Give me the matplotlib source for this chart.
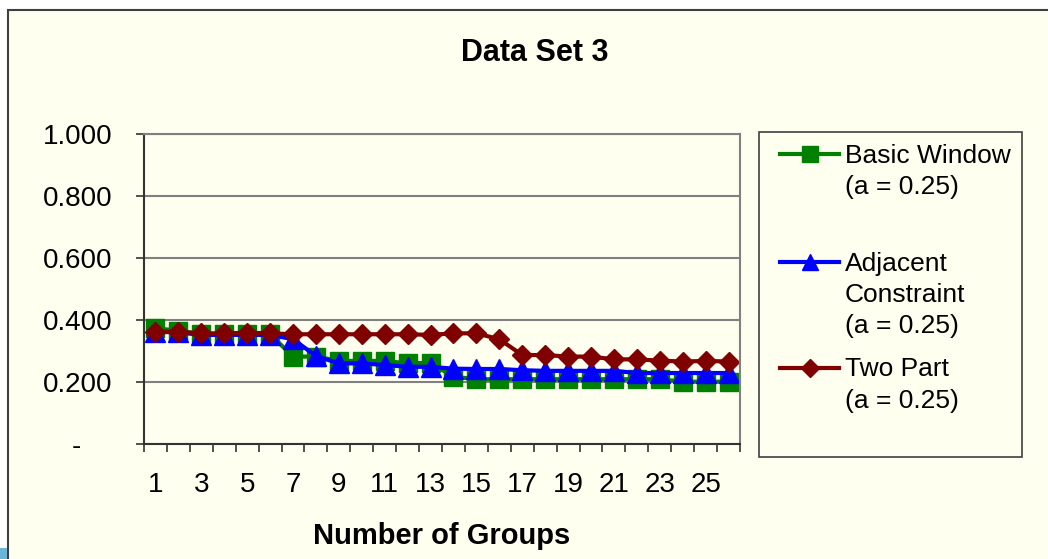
import matplotlib
matplotlib.use("Agg")
import matplotlib.pyplot as plt
from matplotlib.patches import Rectangle
from matplotlib.lines import Line2D
from matplotlib.ticker import FixedLocator, FuncFormatter

plt.rcParams['font.family'] = ['Liberation Sans', 'DejaVu Sans']

# Number of groups 1..26
groups = list(range(1, 27))

basic_window = [0.373, 0.366, 0.354, 0.354, 0.354, 0.354, 0.282, 0.282, 0.268, 0.268,
                0.268, 0.260, 0.262, 0.217, 0.209, 0.209, 0.209, 0.209, 0.209, 0.209,
                0.209, 0.209, 0.209, 0.201, 0.201, 0.201]
adjacent = [0.362, 0.360, 0.352, 0.352, 0.352, 0.352, 0.338, 0.284, 0.260, 0.260,
            0.255, 0.249, 0.249, 0.243, 0.242, 0.242, 0.238, 0.236, 0.236, 0.236,
            0.236, 0.229, 0.229, 0.229, 0.229, 0.229]
two_part = [0.362, 0.362, 0.357, 0.357, 0.359, 0.357, 0.354, 0.354, 0.354, 0.354,
            0.354, 0.354, 0.352, 0.357, 0.357, 0.338, 0.287, 0.287, 0.282, 0.282,
            0.273, 0.273, 0.269, 0.266, 0.268, 0.266]

series = [
    ("Basic Window\n(a = 0.25)", basic_window, '#008000', 's', 13),
    ("Adjacent\nConstraint\n(a = 0.25)", adjacent, '#0000FF', '^', 14),
    ("Two Part\n(a = 0.25)", two_part, '#800000', 'D', 10.5),
]

W, H = 1048, 559
bg = '#FFFFF0'


def fx(x):
    return x / W


def fy(y):
    return 1 - y / H


fig = plt.figure(figsize=(W / 100, H / 100), dpi=100, facecolor='white')

# chart area frame, kept behind the axes
fig.patches.append(Rectangle((fx(8), -0.1), 1.2, fy(10) + 0.1, transform=fig.transFigure,
                             facecolor=bg, edgecolor='#404040', lw=1.5, zorder=-10))
fig.patches.append(Rectangle((0, 0), fx(7), 11 / H, transform=fig.transFigure,
                             facecolor='#6BB5D8', edgecolor='none', zorder=-10))

ax = fig.add_axes([fx(144), fy(444), fx(740 - 144), (444 - 134) / H])
ax.set_facecolor(bg)

for label, vals, color, marker, ms in series:
    ax.plot(groups, vals, color=color, lw=3, marker=marker, ms=ms,
            mec=color, mfc=color, clip_on=False)

ax.set_xlim(0.5, 26.5)
ax.set_ylim(0, 1)

# category boundaries get the tick marks, centres get the labels
ax.xaxis.set_major_locator(FixedLocator([i + 0.5 for i in range(0, 27)]))
ax.xaxis.set_major_formatter(FuncFormatter(lambda v, p: ''))
ax.xaxis.set_minor_locator(FixedLocator(groups[::2]))
ax.xaxis.set_minor_formatter(FuncFormatter(lambda v, p: '%d' % v))
ax.tick_params(axis='x', which='major', direction='out', length=5.8, width=1.2, color='#333333')
ax.tick_params(axis='x', which='minor', length=0, pad=20, labelsize=20)

ax.set_yticks([0, 0.2, 0.4, 0.6, 0.8, 1.0])
ax.yaxis.set_major_formatter(FuncFormatter(lambda v, p: '-    ' if v == 0 else '%.3f' % v))
ax.tick_params(axis='y', direction='out', length=5.8, width=1.2, color='#333333',
               pad=17, labelsize=20)

ax.grid(axis='y', color='#808080', lw=1.5)
ax.set_axisbelow(True)
for side in ['left', 'bottom']:
    ax.spines[side].set_color('#333333')
    ax.spines[side].set_linewidth(1.5)
for side in ['top', 'right']:
    ax.spines[side].set_color('#808080')
    ax.spines[side].set_linewidth(1.5)

ax.set_xlabel('Number of Groups', fontsize=21, fontweight='bold')
ax.xaxis.set_label_coords(0.5, -0.25)

fig.text(fx(535), fy(53), 'Data Set 3', fontsize=22, fontweight='bold',
         ha='center', va='center')

# legend box
fig.patches.append(Rectangle((fx(759), fy(457)), fx(1022 - 759), (457 - 132) / H,
                             transform=fig.transFigure, facecolor='none',
                             edgecolor='#404040', lw=1.2))
rows = [154, 262, 368]
for (label, vals, color, marker, ms), y in zip(series, rows):
    fig.add_artist(Line2D([fx(780), fx(839)], [fy(y), fy(y)], transform=fig.transFigure,
                          color=color, lw=3))
    fig.add_artist(Line2D([fx(809.5)], [fy(y)], transform=fig.transFigure, color=color,
                          marker=marker, ms=ms * 0.85, mec=color, mfc=color))
    for i, line in enumerate(label.split('\n')):
        fig.text(fx(845), fy(y + i * 31.5 + 8.5), line, fontsize=19,
                 ha='left', va='baseline')

fig.savefig('out.png', dpi=100, facecolor='white')
